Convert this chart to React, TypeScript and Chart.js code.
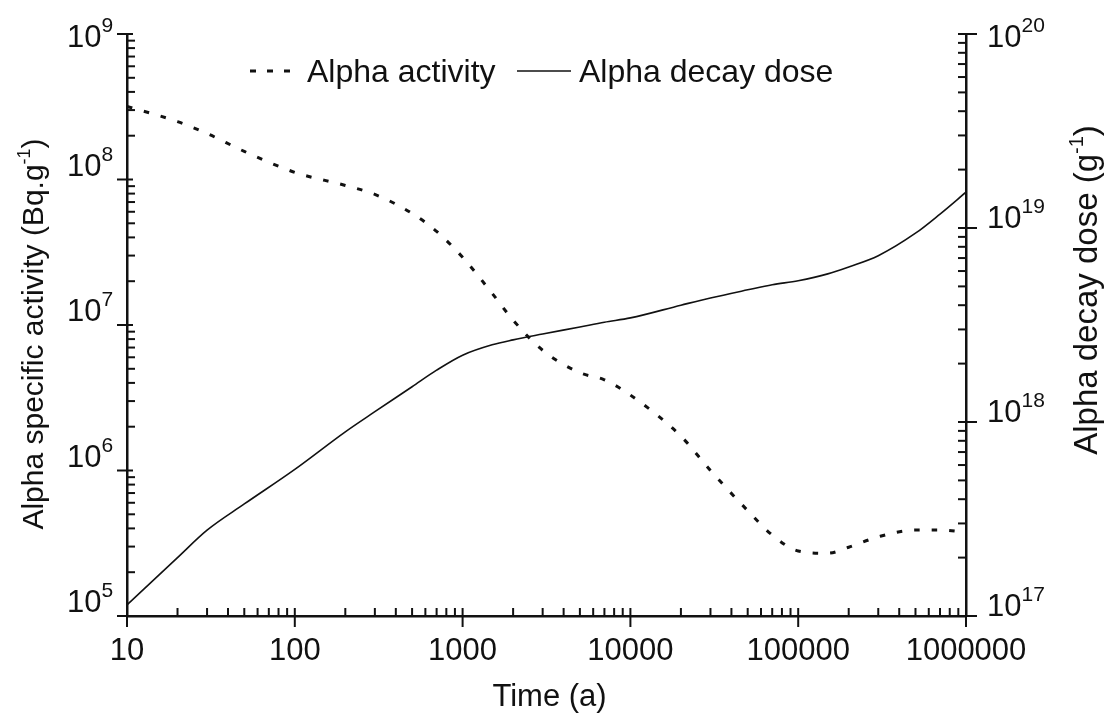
import React, { useEffect, useRef } from 'react';
import { Chart, registerables } from 'chart.js';

Chart.register(...registerables);

// ---- Data ----
const TIME = [10, 20, 30, 50, 100, 200, 300, 500, 700, 1000, 1500, 2000, 3000, 5000, 7000, 10000, 20000, 30000, 50000, 70000, 100000, 150000, 200000, 300000, 500000, 700000, 1000000];
const ALPHA_ACTIVITY = [3.18e8, 2.5e8, 2.07e8, 1.56e8, 1.12e8, 9.1e7, 7.9e7, 5.85e7, 4.4e7, 2.92e7, 1.65e7, 1.08e7, 6.7e6, 4.7e6, 4.2e6, 3.3e6, 1.72e6, 1.0e6, 5.3e5, 3.6e5, 2.8e5, 2.7e5, 2.97e5, 3.5e5, 3.9e5, 3.9e5, 3.77e5];
const ALPHA_DOSE = [1.14e17, 2.0e17, 2.77e17, 3.78e17, 5.7e17, 8.9e17, 1.13e18, 1.52e18, 1.85e18, 2.21e18, 2.5e18, 2.65e18, 2.84e18, 3.09e18, 3.27e18, 3.44e18, 4.0e18, 4.36e18, 4.8e18, 5.1e18, 5.35e18, 5.8e18, 6.3e18, 7.2e18, 9.4e18, 1.18e19, 1.53e19];

const X_TICKS = [10, 100, 1000, 10000, 100000, 1000000];
const LEFT_EXPONENTS = [5, 6, 7, 8, 9];
const RIGHT_EXPONENTS = [17, 18, 19, 20];

const SERIES_NAMES = ['Alpha activity', 'Alpha decay dose'];
const X_TITLE = 'Time (a)';
const LEFT_TITLE = 'Alpha specific activity (Bq.g';
const RIGHT_TITLE = 'Alpha decay dose (g';
const TITLE_SUP = '-1';

const FONT = '"Liberation Sans", Arial, Helvetica, sans-serif';
const INK = '#111';

function seg(ctx: CanvasRenderingContext2D, x1: number, y1: number, x2: number, y2: number) {
  ctx.beginPath();
  ctx.moveTo(x1, y1);
  ctx.lineTo(x2, y2);
  ctx.stroke();
}

function drawPow(ctx: CanvasRenderingContext2D, x: number, baseline: number, exp: number) {
  ctx.font = `31px ${FONT}`;
  ctx.textAlign = 'left';
  ctx.textBaseline = 'alphabetic';
  ctx.fillText('10', x, baseline);
  const w = ctx.measureText('10').width;
  ctx.font = `21px ${FONT}`;
  ctx.fillText(String(exp), x + w, baseline - 15);
}

function drawRotatedTitle(ctx: CanvasRenderingContext2D, cx: number, cy: number, size: number, main: string) {
  ctx.save();
  ctx.translate(cx, cy);
  ctx.rotate(-Math.PI / 2);
  ctx.textBaseline = 'alphabetic';
  ctx.textAlign = 'left';
  ctx.font = `${size}px ${FONT}`;
  const w1 = ctx.measureText(main).width;
  const supSize = Math.round(size * 0.6);
  ctx.font = `${supSize}px ${FONT}`;
  const w2 = ctx.measureText(TITLE_SUP).width;
  ctx.font = `${size}px ${FONT}`;
  const w3 = ctx.measureText(')').width;
  const total = w1 + w2 + w3;
  let x = -total / 2;
  ctx.fillText(main, x, 0);
  x += w1;
  ctx.font = `${supSize}px ${FONT}`;
  ctx.fillText(TITLE_SUP, x, -size * 0.42);
  x += w2;
  ctx.font = `${size}px ${FONT}`;
  ctx.fillText(')', x, 0);
  ctx.restore();
}

const decorPlugin = {
  id: 'decor',
  afterDraw(chart: any) {
    const ctx: CanvasRenderingContext2D = chart.ctx;
    const { left, right, bottom } = chart.chartArea;
    const xs = chart.scales.x;
    const ys = chart.scales.y;
    const y2 = chart.scales.y2;
    ctx.save();
    ctx.strokeStyle = INK;
    ctx.fillStyle = INK;
    ctx.lineWidth = 2;
    ctx.setLineDash([]);

    // x-axis ticks
    for (let e = 1; e <= 6; e++) {
      for (let m = 1; m <= 9; m++) {
        const v = m * Math.pow(10, e);
        if (v > 1e6) break;
        const px = xs.getPixelForValue(v);
        seg(ctx, px, bottom - 8, px, m === 1 ? bottom + 11 : bottom);
      }
    }
    // left axis ticks
    for (let e = 5; e <= 9; e++) {
      for (let m = 1; m <= 9; m++) {
        const v = m * Math.pow(10, e);
        if (v > 1e9) break;
        const py = ys.getPixelForValue(v);
        if (m === 1) seg(ctx, left - 10, py, left + 6, py);
        else seg(ctx, left, py, left + 8, py);
      }
    }
    // right axis ticks
    for (let e = 17; e <= 20; e++) {
      for (let m = 1; m <= 9; m++) {
        const v = m * Math.pow(10, e);
        if (v > 1e20) break;
        const py = y2.getPixelForValue(v);
        if (m === 1) seg(ctx, right - 8, py, right + 11, py);
        else seg(ctx, right - 8, py, right, py);
      }
    }

    // left tick labels
    const topL = Math.max(...LEFT_EXPONENTS);
    LEFT_EXPONENTS.forEach((e) => {
      const py = ys.getPixelForValue(Math.pow(10, e));
      drawPow(ctx, 67, e === topL ? py + 13 : py - 4, e);
    });
    // right tick labels
    const topR = Math.max(...RIGHT_EXPONENTS);
    RIGHT_EXPONENTS.forEach((e) => {
      const py = y2.getPixelForValue(Math.pow(10, e));
      drawPow(ctx, right + 21, e === topR ? py + 13 : py, e);
    });

    // axis titles
    ctx.font = `31px ${FONT}`;
    ctx.textAlign = 'center';
    ctx.textBaseline = 'alphabetic';
    ctx.fillText(X_TITLE, (left + right) / 2 + 3, 706);
    drawRotatedTitle(ctx, 43, 334, 30, LEFT_TITLE);
    drawRotatedTitle(ctx, 1097, 290, 33, RIGHT_TITLE);

    // legend
    ctx.lineWidth = 3;
    ctx.lineCap = 'butt';
    ctx.setLineDash([6, 11]);
    seg(ctx, 250, 71, 296, 71);
    ctx.setLineDash([]);
    ctx.lineWidth = 1.6;
    seg(ctx, 517, 71, 571, 71);
    ctx.font = `32px ${FONT}`;
    ctx.textAlign = 'left';
    ctx.fillText(SERIES_NAMES[0], 307, 82);
    ctx.fillText(SERIES_NAMES[1], 579, 82);
    ctx.restore();
  },
};

export default function App() {
  const ref = useRef<HTMLCanvasElement | null>(null);
  useEffect(() => {
    if (!ref.current) return;
    const chart = new Chart(ref.current, {
      type: 'line',
      data: {
        datasets: [
          {
            label: SERIES_NAMES[0],
            data: TIME.map((t, i) => ({ x: t, y: ALPHA_ACTIVITY[i] })),
            yAxisID: 'y',
            borderColor: INK,
            borderWidth: 3,
            borderDash: [5.5, 12],
            borderCapStyle: 'butt',
            pointRadius: 0,
            fill: false,
            cubicInterpolationMode: 'monotone',
          },
          {
            label: SERIES_NAMES[1],
            data: TIME.map((t, i) => ({ x: t, y: ALPHA_DOSE[i] })),
            yAxisID: 'y2',
            borderColor: INK,
            borderWidth: 1.6,
            pointRadius: 0,
            fill: false,
            cubicInterpolationMode: 'monotone',
          },
        ],
      },
      options: {
        animation: false,
        responsive: true,
        maintainAspectRatio: false,
        layout: { padding: { top: 34, left: 0, right: 0, bottom: 0 } },
        plugins: { legend: { display: false }, tooltip: { enabled: false } },
        scales: {
          x: {
            type: 'logarithmic',
            position: 'bottom',
            min: 10,
            max: 1e6,
            grid: { display: false },
            border: { display: true, color: INK, width: 2.5 },
            ticks: {
              font: { family: FONT, size: 31 },
              color: INK,
              padding: 9,
              maxRotation: 0,
              minRotation: 0,
              autoSkip: false,
              callback: (v: any) => String(v),
            },
            afterBuildTicks: (s: any) => {
              s.ticks = X_TICKS.map((v) => ({ value: v }));
            },
            afterFit: (s: any) => {
              s.height = 98;
            },
          },
          y: {
            type: 'logarithmic',
            position: 'left',
            min: 1e5,
            max: 1e9,
            grid: { display: false },
            border: { display: true, color: INK, width: 2.5 },
            ticks: { display: false },
            afterFit: (s: any) => {
              s.width = 127;
            },
          },
          y2: {
            type: 'logarithmic',
            position: 'right',
            min: 1e17,
            max: 1e20,
            grid: { display: false },
            border: { display: true, color: INK, width: 2.5 },
            ticks: { display: false },
            afterFit: (s: any) => {
              s.width = 141;
            },
          },
        },
      },
      plugins: [decorPlugin],
    } as any);
    return () => chart.destroy();
  }, []);
  return (
    <div style={{ position: 'fixed', left: 0, top: 0, width: 1107, height: 714, background: '#fff' }}>
      <canvas ref={ref} />
    </div>
  );
}
